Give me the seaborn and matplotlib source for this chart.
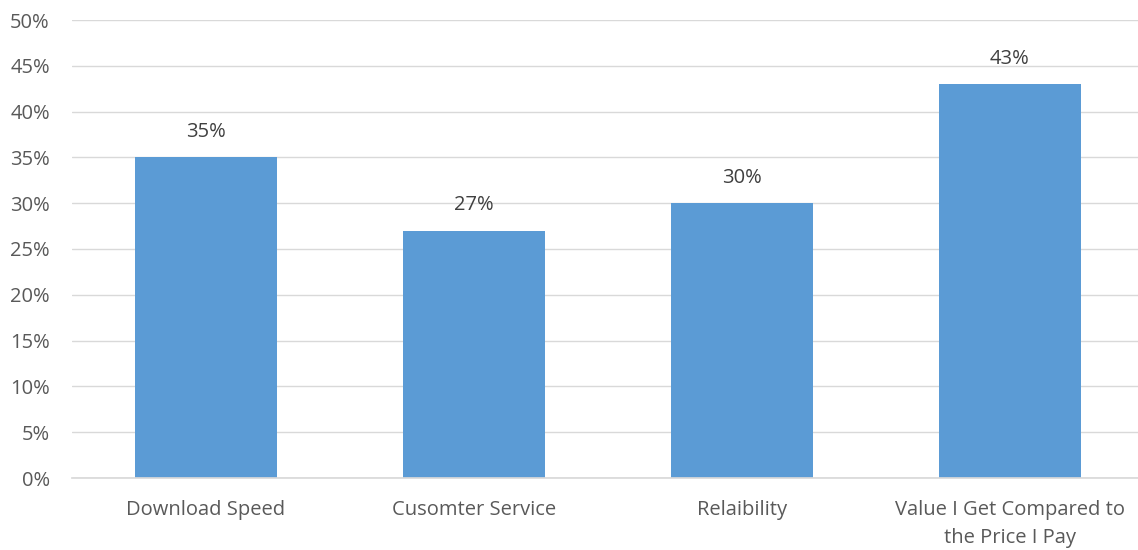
import matplotlib
matplotlib.use("Agg")
import matplotlib.pyplot as plt
import seaborn as sns
import pandas as pd

categories = ["Download Speed", "Cusomter Service", "Relaibility", "Value I Get Compared to\nthe Price I Pay"]
values = [35, 27, 30, 43]
yticks = [0, 5, 10, 15, 20, 25, 30, 35, 40, 45, 50]

df = pd.DataFrame({"cat": categories, "val": values})

sns.set_theme(style="white")
plt.rcParams['font.family'] = ['Open Sans', 'DejaVu Sans']

fig = plt.figure(figsize=(11.38, 5.5), dpi=100)
ax = fig.add_axes([72/1138, 72/550, (1138-72)/1138, (478-20)/550])

sns.barplot(data=df, x="cat", y="val", color="#5B9BD5", width=0.53, ax=ax,
            saturation=1, linewidth=0, edgecolor="none")

ax.set_ylim(0, 50)
ax.set_xlim(-0.5, 3.478)
ax.set_yticks(yticks)
ax.set_yticklabels([f"{t}%" for t in yticks], fontsize=14.5, color="#595959")
ax.set_xticklabels(categories, fontsize=14.5, color="#595959", linespacing=1.5)
ax.set_xlabel("")
ax.set_ylabel("")
ax.yaxis.grid(True, color="#D9D9D9", linewidth=1)
ax.set_axisbelow(True)
for s in ["top", "right", "left"]:
    ax.spines[s].set_visible(False)
ax.spines["bottom"].set_color("#D9D9D9")
ax.tick_params(axis="y", length=0, pad=16)
ax.tick_params(axis="x", length=0, pad=16)

for p, v in zip(ax.patches, values):
    ax.annotate(f"{v}%", (p.get_x() + p.get_width()/2, p.get_height()),
                xytext=(0, 11), textcoords="offset points", ha="center", va="bottom",
                fontsize=14.5, color="#404040")

fig.savefig("out.png", dpi=100)
